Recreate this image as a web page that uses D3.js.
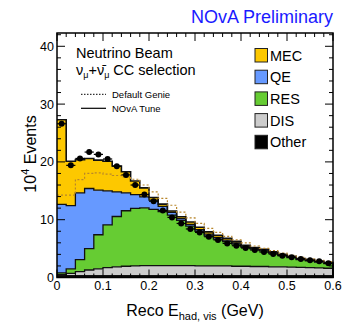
<!DOCTYPE html>
<html>
<head>
<meta charset="utf-8">
<script src="https://cdn.jsdelivr.net/npm/d3@7"></script>
<style>
  body { margin: 0; background: #fff; }
  svg { font-family: "Liberation Sans", Arial, Helvetica, sans-serif; }
</style>
</head>
<body>
<div id="chart"></div>
<script>
// bin edges: 30 bins of 0.02 GeV from 0 to 0.6
const binLo = d3.range(30).map(i => i * 0.02)
const binW = 0.02

// stacked components (10^4 events), NOvA tune
const other = [0.3,0.3,0.3,0.3,0.3,0.3,0.3,0.3,0.3,0.3,0.3,0.3,0.3,0.3,0.3,0.3,0.3,0.3,0.3,0.3,0.3,0.3,0.3,0.3,0.3,0.3,0.3,0.3,0.3,0.3]
const dis   = [0.2,0.4,0.7,1.0,1.2,1.4,1.55,1.65,1.7,1.75,1.75,1.75,1.75,1.75,1.75,1.7,1.7,1.7,1.7,1.65,1.65,1.6,1.6,1.55,1.55,1.5,1.45,1.4,1.35,1.3]
const res   = [0.3,0.8,2.1,3.7,5.9,7.4,8.7,9.6,9.95,10.0,9.75,9.35,8.75,7.85,6.85,6.0,5.2,4.65,4.2,3.85,3.25,3.0,2.7,2.35,1.95,1.65,1.35,1.2,1.0,0.8]
const qe    = [11.85,10.95,11.55,10.4,7.7,5.9,4.25,3.1,2.4,1.9,1.6,0.9,0.45,0.3,0.3,0.3,0.3,0.3,0.25,0.2,0.2,0.15,0.15,0.12,0.1,0.1,0.1,0.1,0.1,0.1]
const mec   = [14.65,7.65,5.75,5.2,5.2,5.1,4.5,3.65,2.35,1.55,0.45,0.4,0.25,0.3,0.4,0.4,0.4,0.35,0.35,0.25,0.15,0.15,0.15,0.13,0.1,0.1,0.1,0.1,0.1,0.1]

// default genie total (dotted)
const genie = [14.25,14.25,16.95,18.0,18.1,17.9,17.65,17.4,17.0,16.0,14.8,13.7,12.5,11.3,10.3,9.35,8.5,7.8,7.1,6.5,6.0,5.45,5.05,4.65,4.2,3.85,3.5,3.2,2.95,2.75]

// data points
const dataPts = [26.6,19.4,20.6,21.7,21.3,20.5,19.25,17.75,16.0,14.35,13.2,11.6,10.4,9.35,8.4,7.8,7.05,6.5,5.9,5.5,5.1,4.75,4.4,4.05,3.77,3.5,3.2,3.0,2.8,2.45]

const xTicks = [0,0.1,0.2,0.3,0.4,0.5,0.6]
const yTicks = [0,10,20,30,40]

const layerKeys = ["other","dis","res","qe","mec"]
const layerColors = {mec:"#fdc800", qe:"#6699ff", res:"#66cc33", dis:"#cccccc", other:"#000000"}
const legendItems = [["mec","MEC"],["qe","QE"],["res","RES"],["dis","DIS"],["other","Other"]]

const width = 349, height = 327
const pLeft = 57, pRight = 333, pTop = 33, pBottom = 277.5

const svg = d3.select("#chart").append("svg")
    .attr("width", width)
    .attr("height", height)

const x = d3.scaleLinear().domain([0,0.6]).range([pLeft,pRight])
const y = d3.scaleLinear().domain([0,42.3]).range([pBottom,pTop])

// stack table
const table = binLo.map((lo,i) => ({lo:lo, other:other[i], dis:dis[i], res:res[i], qe:qe[i], mec:mec[i]}))
const series = d3.stack().keys(layerKeys)(table)

// turn a per-bin value into step points
function steps(getv){
    const out = []
    binLo.forEach((lo,i) => {
        out.push([lo, getv(i)])
        out.push([lo + binW, getv(i)])
    })
    return out
}

const plot = svg.append("g")

series.forEach(s => {
    const band = []
    s.forEach((d,i) => {
        band.push({x:binLo[i], y0:d[0], y1:d[1]})
        band.push({x:binLo[i]+binW, y0:d[0], y1:d[1]})
    })
    plot.append("path")
        .datum(band)
        .attr("fill", layerColors[s.key])
        .attr("d", d3.area().x(d => x(d.x)).y0(d => y(d.y0)).y1(d => y(d.y1)))
})

// outlines of each layer top
const line = d3.line().x(d => x(d[0])).y(d => y(d[1]))
series.forEach(s => {
    const outline = steps(i => s[i][1])
    outline.push([0.6, 0])
    plot.append("path")
        .datum(outline)
        .attr("fill","none")
        .attr("stroke","#111")
        .attr("stroke-width", s.key === "mec" ? 1.6 : 1.3)
        .attr("d", line)
})

// default genie dotted
plot.append("path")
    .datum(steps(i => genie[i]))
    .attr("fill","none")
    .attr("stroke","#b8862b")
    .attr("stroke-width",1.2)
    .attr("stroke-dasharray","2,2")
    .attr("d", line)

// data points with error bars
const dots = plot.selectAll(".pt").data(dataPts).enter().append("g")
dots.append("line")
    .attr("x1",(d,i) => x(binLo[i]))
    .attr("x2",(d,i) => x(binLo[i]+binW))
    .attr("y1",d => y(d)).attr("y2",d => y(d))
    .attr("stroke","#000").attr("stroke-width",1.2)
dots.append("line")
    .attr("x1",(d,i) => x(binLo[i]+binW/2))
    .attr("x2",(d,i) => x(binLo[i]+binW/2))
    .attr("y1",d => y(d+0.4)).attr("y2",d => y(d-0.4))
    .attr("stroke","#000").attr("stroke-width",1.2)
dots.append("circle")
    .attr("cx",(d,i) => x(binLo[i]+binW/2))
    .attr("cy",d => y(d))
    .attr("r",3)
    .attr("fill","#000")

// frame and ticks
const axes = svg.append("g").attr("stroke","#000")
axes.append("rect")
    .attr("x",pLeft).attr("y",pTop)
    .attr("width",pRight-pLeft).attr("height",pBottom-pTop)
    .attr("fill","none").attr("stroke-width",1.5)

d3.range(0,0.6001,0.02).forEach(v => {
    const major = Math.abs(v*10 - Math.round(v*10)) < 1e-6
    const len = major ? 8 : 4
    axes.append("line").attr("x1",x(v)).attr("x2",x(v)).attr("y1",pBottom).attr("y2",pBottom-len).attr("stroke-width",1)
    axes.append("line").attr("x1",x(v)).attr("x2",x(v)).attr("y1",pTop).attr("y2",pTop+len).attr("stroke-width",1)
})
d3.range(0,42.1,2).forEach(v => {
    const major = v % 10 === 0
    const len = major ? 8 : 4
    axes.append("line").attr("x1",pLeft).attr("x2",pLeft+len).attr("y1",y(v)).attr("y2",y(v)).attr("stroke-width",1)
    axes.append("line").attr("x1",pRight).attr("x2",pRight-len).attr("y1",y(v)).attr("y2",y(v)).attr("stroke-width",1)
})

svg.selectAll(".xt").data(xTicks).enter().append("text")
    .attr("x",d => x(d)).attr("y",pBottom+12)
    .attr("text-anchor","middle").attr("font-size",12.5)
    .text(d => d)
svg.selectAll(".yt").data(yTicks).enter().append("text")
    .attr("x",pLeft-3).attr("y",d => y(d)+4.5)
    .attr("text-anchor","end").attr("font-size",12.5)
    .text(d => d)

// axis titles
const xt = svg.append("text").attr("x",195).attr("y",316).attr("text-anchor","middle").attr("font-size",16)
xt.append("tspan").text("Reco E")
xt.append("tspan").attr("font-size",11).attr("dy",4).text("had, vis")
xt.append("tspan").attr("dy",-4).text(" (GeV)")

const yt = svg.append("text").attr("transform","translate(36,154) rotate(-90)").attr("text-anchor","middle").attr("font-size",16)
yt.append("tspan").text("10")
yt.append("tspan").attr("font-size",11).attr("dy",-7).text("4")
yt.append("tspan").attr("dy",7).text(" Events")

// title
svg.append("text").attr("x",pRight).attr("y",22.5).attr("text-anchor","end")
    .attr("font-size",18).attr("fill","#1a1aff").text("NOvA Preliminary")

// labels inside plot
svg.append("text").attr("x",76).attr("y",58).attr("font-size",14.5).text("Neutrino Beam")
const sel = svg.append("text").attr("x",76).attr("y",75).attr("font-size",14.5)
sel.append("tspan").text("ν")
sel.append("tspan").attr("font-size",9).attr("dy",3).text("μ")
sel.append("tspan").attr("dy",-3).text("+ν̄")
sel.append("tspan").attr("font-size",9).attr("dy",3).text("μ")
sel.append("tspan").attr("dy",-3).text(" CC selection")

svg.append("line").attr("x1",81).attr("x2",106).attr("y1",94.3).attr("y2",94.3)
    .attr("stroke","#000").attr("stroke-width",1).attr("stroke-dasharray","1.5,1.5")
svg.append("text").attr("x",112).attr("y",97.5).attr("font-size",9.5).text("Default Genie")
svg.append("line").attr("x1",81).attr("x2",106).attr("y1",108.3).attr("y2",108.3)
    .attr("stroke","#000").attr("stroke-width",1.2)
svg.append("text").attr("x",112).attr("y",111.5).attr("font-size",9.5).text("NOvA Tune")

// legend boxes
const leg = svg.selectAll(".leg").data(legendItems).enter().append("g")
    .attr("transform",(d,i) => `translate(255,${48.5 + i*21.7})`)
leg.append("rect").attr("width",12.5).attr("height",13.5)
    .attr("fill",d => layerColors[d[0]]).attr("stroke","#222").attr("stroke-width",1)
leg.append("text").attr("x",15).attr("y",12).attr("font-size",14.5).text(d => d[1])
</script>
</body>
</html>
